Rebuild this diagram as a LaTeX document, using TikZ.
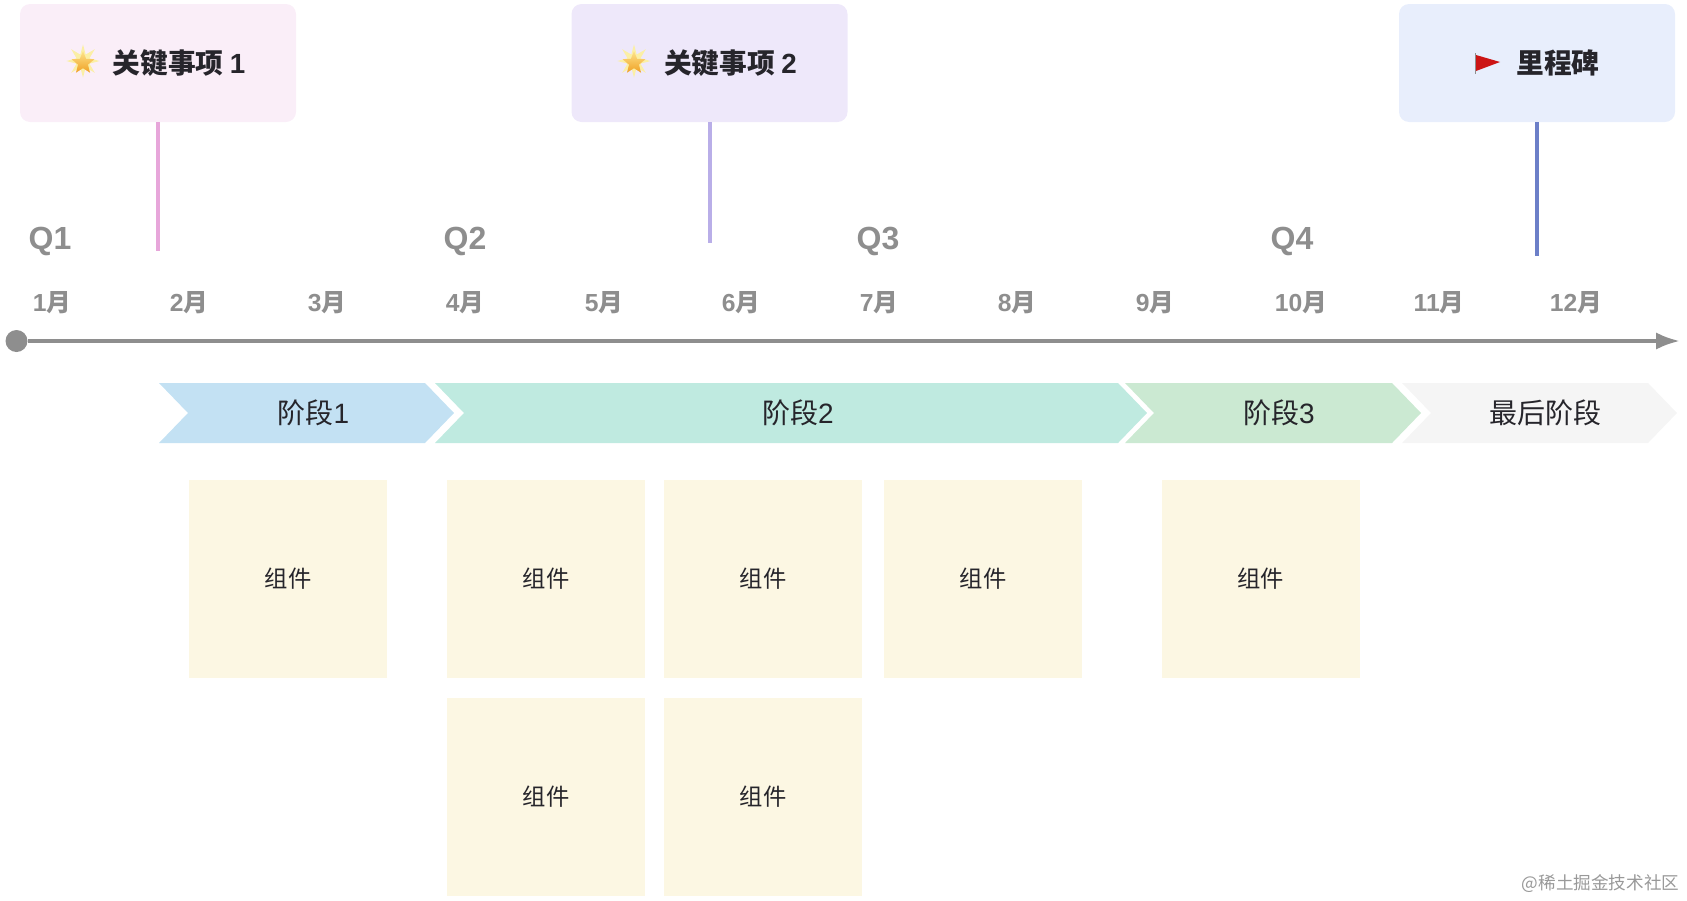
\documentclass[tikz,border=0pt]{standalone}
\usepackage{fontspec}
\usepackage{xcolor}
\usepackage{tikz}
\usetikzlibrary{arrows.meta,positioning,shapes.geometric}
\setmainfont{Noto Sans CJK SC}
\newfontfamily\latinfont{Liberation Sans}

\definecolor{axisgray}{HTML}{8E8E8E}
\definecolor{inkdark}{HTML}{26252B}
\definecolor{keypink}{HTML}{FAEEF8}
\definecolor{keypurple}{HTML}{EEE8FA}
\definecolor{keyblue}{HTML}{E8EEFC}
\definecolor{stempink}{HTML}{E7A6DA}
\definecolor{stempurple}{HTML}{B9AEE8}
\definecolor{stemblue}{HTML}{6C7FC8}
\definecolor{stageblue}{HTML}{C3E1F3}
\definecolor{stageteal}{HTML}{BFEAE0}
\definecolor{stagegreen}{HTML}{CBE9D2}
\definecolor{stagegray}{HTML}{F5F5F5}
\definecolor{cardyellow}{HTML}{FCF7E3}
\definecolor{starglow}{HTML}{FBEFA6}
\definecolor{startop}{HTML}{FDE38A}
\definecolor{starbottom}{HTML}{F0A024}
\definecolor{flagred}{HTML}{CC1414}

\tikzset{
    keybox/.style={rounded corners=7.5pt,inner sep=0pt,minimum width=207pt,minimum height=88.5pt,
        text=inkdark,font=\fontsize{20.8}{24}\selectfont\bfseries},
    stem/.style={line width=3pt},
    quarter/.style={text=axisgray,font=\fontsize{24}{28}\selectfont\latinfont\bfseries},
    month/.style={text=axisgray,font=\fontsize{18.5}{20}\selectfont\bfseries},
    stage/.style={text=inkdark,font=\fontsize{21}{24}\selectfont},
    card/.style={fill=cardyellow,inner sep=0pt,minimum width=148.5pt,minimum height=148.5pt,
        text=inkdark,font=\fontsize{17.5}{20}\selectfont},
    glow/.style={star,star points=8,star point ratio=2.4,fill=starglow,inner sep=0pt,minimum size=25pt},
    staricon/.style={star,star points=5,star point ratio=2.3,top color=startop,bottom color=starbottom,
        inner sep=0pt,minimum size=18pt},
}

\begin{document}
\begin{tikzpicture}[x=0.75pt,y=-0.75pt]
    \useasboundingbox (0,0) rectangle (1687,900);

    % key events
    \node[keybox,fill=keypink] (key1) at (158,63) {\hspace{31.5pt}关键事项 {\latinfont 1}};
    \node[keybox,fill=keypurple] (key2) at (709.5,63) {\hspace{31.5pt}关键事项 {\latinfont 2}};
    \node[keybox,fill=keyblue] (mile) at (1537,63) {\hspace{31.5pt}里程碑};
    \coordinate (key1end) at (158,251);
    \coordinate (key2end) at (709.5,243);
    \coordinate (mileend) at (1537,256);
    \draw[stem,color=stempink] (key1.south) -- (key1end);
    \draw[stem,color=stempurple] (key2.south) -- (key2end);
    \draw[stem,color=stemblue] (mile.south) -- (mileend);

    % icons
    \node[glow] (glow1) at (83,61) {};
    \node[staricon] (star1) at (83,63) {};
    \node[glow] (glow2) at (634,61) {};
    \node[staricon] (star2) at (634,63) {};
    \fill[color=flagred] (1476,55) -- (1500,62) -- (1476,71) -- cycle;
    \draw[line width=0.75pt,color=axisgray] (1475,53) -- (1475,74);

    % quarters and months
    \foreach \x/\name in {50/Q1,465/Q2,878/Q3,1292/Q4}
        \node[quarter] (\name) at (\x,241) {\name};
    \foreach \x/\m in {52/1,189/2,327/3,465/4,604/5,741/6,879/7,1017/8,1155/9,1301/10,1439/11,1576/12}
        \node[month] (m\m) at (\x,303) {{\latinfont\m}月};

    % time axis
    \node[circle,fill=axisgray,inner sep=0pt,minimum size=16.5pt] (start) at (16.5,341) {};
    \coordinate (axisend) at (1680,341);
    \draw[line width=3pt,color=axisgray,-{Latex[length=18pt,width=13pt]}] (start) -- (axisend);

    % stages
    \foreach \l/\r/\c in {159/425/stageblue,435/1118/stageteal,1125/1392/stagegreen,1402/1648/stagegray}
        \fill[color=\c] (\l,383) -- (\r,383) -- (\r+29,413) -- (\r,443) -- (\l,443) -- (\l+29,413) -- cycle;
    \node[stage] (stage1) at (313.5,413) {阶段{\latinfont 1}};
    \node[stage] (stage2) at (798,413) {阶段{\latinfont 2}};
    \node[stage] (stage3) at (1279,413) {阶段{\latinfont 3}};
    \node[stage] (stage4) at (1545,413) {最后阶段};

    % components
    \foreach \x/\y/\n in {288/579/a,546/579/b,763/579/c,983/579/d,1260.5/579/e,546/797/f,763/797/g}
        \node[card] (card\n) at (\x,\y) {\raisebox{-0.7pt}{组件}};

    \node[text=black!40,anchor=east,font=\fontsize{13.2}{16}\selectfont] (mark) at (1684,884) {@稀土掘金技术社区};
\end{tikzpicture}
\end{document}
